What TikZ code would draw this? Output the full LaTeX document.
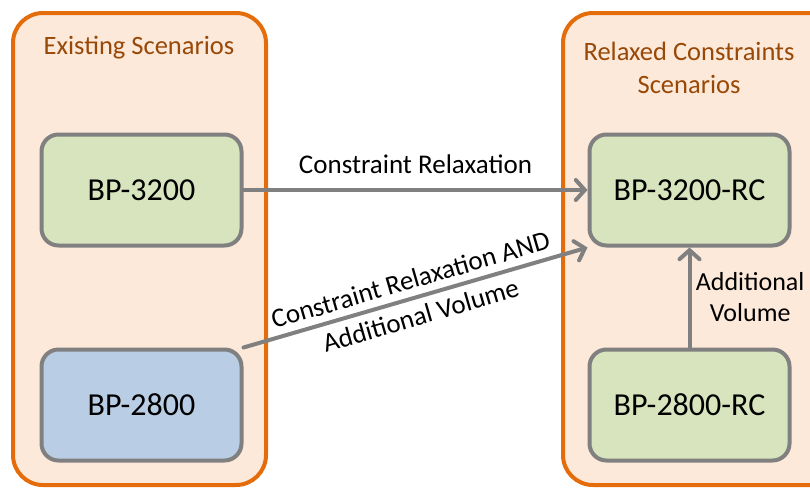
\documentclass[tikz,border=0pt]{standalone}
\usepackage{fontspec}
\setmainfont{Carlito}
\usetikzlibrary{arrows.meta}

\definecolor{frameorange}{HTML}{E46C0A}
\definecolor{framepeach}{HTML}{FDE9D9}
\definecolor{titlebrown}{HTML}{984807}
\definecolor{scengreen}{HTML}{D7E4BD}
\definecolor{scenblue}{HTML}{B9CDE5}
\definecolor{arrowgray}{HTML}{808080}

\begin{document}
\begin{tikzpicture}[x=1pt,y=-1pt,
  frame/.style={draw=frameorange,fill=framepeach,line width=4pt,rounded corners=30pt},
  scenario/.style={draw=arrowgray,line width=4pt,rounded corners=17pt,minimum width=200pt,minimum height=111pt,inner sep=0pt,font=\fontsize{32}{38}\selectfont},
  grouptitle/.style={text=titlebrown,align=center,font=\fontsize{26.5}{33}\selectfont},
  relax/.style={draw=arrowgray,line width=4pt,line cap=round,-{Straight Barb[length=9pt,width=20pt,line cap=round]}},
  relaxlabel/.style={align=center,font=\fontsize{27}{32}\selectfont}]
% fix the page size
\useasboundingbox (0,0) rectangle (810,488);

% define the two groups
\draw[frame] (13,13) rectangle (266,485);
\draw[frame] (563,13) rectangle (840,485);
\node[grouptitle] (existing) at (139,48) {Existing Scenarios};
\node[grouptitle] (relaxed) at (689,68) {Relaxed Constraints\\Scenarios};

% scenario boxes
\node[scenario,fill=scengreen] (b3200) at (141.5,190) {BP-3200};
\node[scenario,fill=scenblue] (b2800) at (141.5,405) {BP-2800};
\node[scenario,fill=scengreen] (rc3200) at (689.5,190) {BP-3200-RC};
\node[scenario,fill=scengreen] (rc2800) at (689.5,405) {BP-2800-RC};

% connections
\draw[relax] (b3200.east) -- (rc3200.west)
  node[relaxlabel,midway,above=11pt] {Constraint Relaxation};
\draw[relax] (b2800.north east) -- (rc3200.south west)
  node[relaxlabel,midway,sloped,font=\fontsize{27}{37}\selectfont] {Constraint Relaxation AND\\Additional Volume};
\draw[relax] (rc2800.north) -- (rc3200.south)
  node[relaxlabel,midway,right=1pt,font=\fontsize{26}{31}\selectfont] {Additional\\Volume};

\end{tikzpicture}
\end{document}
